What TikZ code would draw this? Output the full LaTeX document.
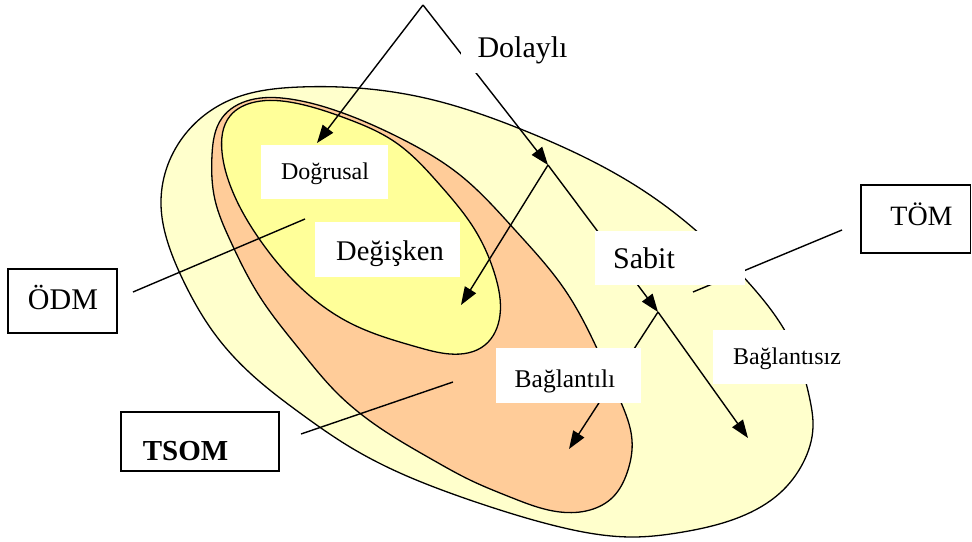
\documentclass[tikz,border=0pt]{standalone}
\usepackage{fontspec}
\setmainfont{Liberation Serif}
\usetikzlibrary{arrows.meta,hobby}
\definecolor{outerfill}{HTML}{FFFFCC}
\definecolor{midfill}{HTML}{FFCC99}
\definecolor{innerfill}{HTML}{FFFF99}
\begin{document}
\begin{tikzpicture}[x=1pt,y=-1pt,
  region/.style={draw=black, line width=1.3pt, use Hobby shortcut, closed=true},
  pointer/.style={line width=1.4pt, -{Triangle[length=18pt,width=13pt]}},
  leader/.style={line width=1.4pt},
  tagbox/.style={draw=black, line width=1.3pt, fill=white},
  cover/.style={fill=white},
  txt/.style={anchor=base, inner sep=0pt}]
\useasboundingbox (0,0) rectangle (972,541);

% outer region (TÖM)
\filldraw[region, fill=outerfill]
  (161,205) .. (183,137) .. (230,100) .. (300,87) .. (425,98) .. (523,130)
  .. (650,195) .. (748,282) .. (790,340) .. (810,400) .. (813,427)
  .. (803,463) .. (780,493) .. (740,517) .. (683,532) .. (633,537)
  .. (560,527) .. (500,510) .. (450,493) .. (400,473) .. (350,447)
  .. (300,413) .. (250,373) .. (217,337) .. (183,280) .. (167,240);

% middle region (TSOM)
\filldraw[region, fill=midfill]
  (212,155) .. (222,118) .. (250,100) .. (290,99) .. (340,112) .. (400,138)
  .. (460,175) .. (515,230) .. (565,290) .. (600,355) .. (620,400)
  .. (632,440) .. (627,473) .. (613,497) .. (590,510) .. (560,512)
  .. (510,497) .. (470,480) .. (433,460) .. (383,430) .. (337,393)
  .. (300,350) .. (260,297) .. (230,240) .. (215,200);

% inner region (ÖDM)
\filldraw[region, fill=innerfill]
  (222,152) .. (230,116) .. (255,102) .. (295,103) .. (345,118) .. (395,142)
  .. (440,185) .. (475,230) .. (495,275) .. (500,315) .. (485,345)
  .. (450,354) .. (417,347) .. (350,323) .. (300,287) .. (260,240)
  .. (232,190);

% branching points and arrow tips
\coordinate (apex) at (423,5);
\coordinate (toDogrusal) at (317,143);
\coordinate (fork1) at (548,165);
\coordinate (toDegisken) at (461,305);
\coordinate (fork2) at (658,312);
\coordinate (toBaglantili) at (569,449);
\coordinate (toBaglantisiz) at (748,438);

\draw[pointer] (apex) -- (toDogrusal);
\draw[pointer] (apex) -- (fork1);
\draw[pointer] (fork1) -- (toDegisken);
\draw[pointer] (fork1) -- (fork2);
\draw[pointer] (fork2) -- (toBaglantili);
\draw[pointer] (fork2) -- (toBaglantisiz);

% leader lines from the set names
\coordinate (odmA) at (133,292);  \coordinate (odmB) at (305,219);
\coordinate (tsomA) at (301,434); \coordinate (tsomB) at (453,382);
\coordinate (tomA) at (693,292);  \coordinate (tomB) at (842,230);
\draw[leader] (odmA) -- (odmB);
\draw[leader] (tsomA) -- (tsomB);
\draw[leader] (tomA) -- (tomB);

% white label backgrounds
\path[cover] (461,18) rectangle (590,73);
\path[cover] (261,145) rectangle (388,199);
\path[cover] (315,222) rectangle (460,277);
\path[cover] (595,231) rectangle (745,285);
\path[cover] (496,348) rectangle (641,403);
\path[cover] (713,330) rectangle (860,384);

% framed name boxes
\draw[tagbox] (8,269) rectangle (117,333);
\draw[tagbox] (121,412) rectangle (279,471);
\draw[tagbox] (861,185) rectangle (970.5,253);

% texts
\node[txt, font=\fontsize{30}{36}\selectfont] (dolayli) at (522.5,57) {Dolaylı};
\node[txt, font=\fontsize{24}{29}\selectfont] (dogrusal) at (325,179) {Doğrusal};
\node[txt, font=\fontsize{28.5}{34}\selectfont] (degisken) at (390,260) {Değişken};
\node[txt, font=\fontsize{30}{36}\selectfont] (sabit) at (644,268) {Sabit};
\node[txt, font=\fontsize{25.5}{30}\selectfont] (baglantili) at (565,387) {Bağlantılı};
\node[txt, font=\fontsize{24}{29}\selectfont] (baglantisiz) at (787,364) {Bağlantısız};
\node[txt, font=\fontsize{30}{36}\selectfont] (odm) at (63,309) {ÖDM};
\node[txt, font=\bfseries\fontsize{29}{35}\selectfont] (tsom) at (185.5,460) {TSOM};
\node[txt, font=\fontsize{28}{34}\selectfont] (tom) at (921.5,225) {TÖM};
\end{tikzpicture}
\end{document}
